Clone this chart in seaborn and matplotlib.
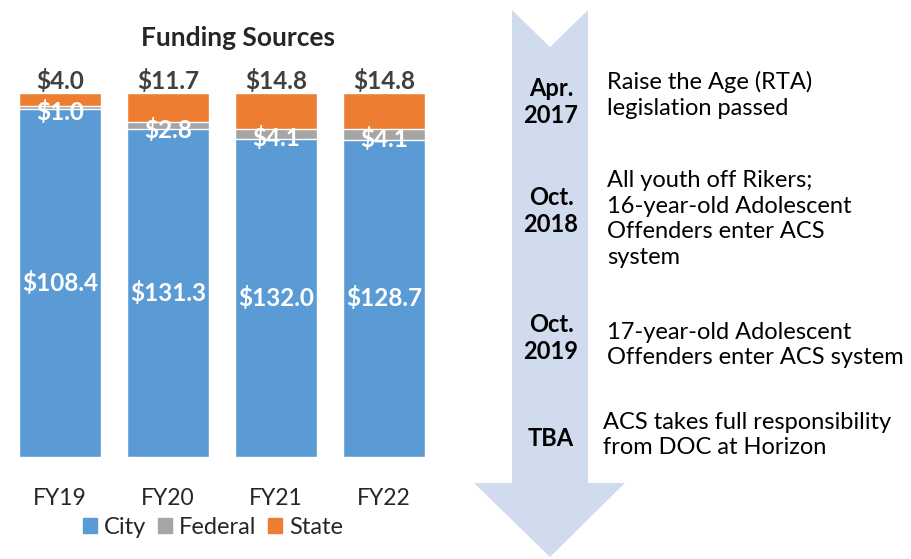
import numpy as np
import pandas as pd
import matplotlib
matplotlib.use('Agg')
import matplotlib.pyplot as plt
from matplotlib.patches import Polygon, Patch
import seaborn as sns

# data
years = ['FY19', 'FY20', 'FY21', 'FY22']
city = [108.4, 131.3, 132.0, 128.7]
federal = [1.0, 2.8, 4.1, 4.1]
state = [4.0, 11.7, 14.8, 14.8]

dates = ['Apr.\n2017', 'Oct.\n2018', 'Oct.\n2019', 'TBA']
events = ['Raise the Age (RTA)\nlegislation passed',
          'All youth off Rikers;\n16-year-old Adolescent\nOffenders enter ACS\nsystem',
          '17-year-old Adolescent\nOffenders enter ACS system',
          'ACS takes full responsibility\nfrom DOC at Horizon']

c_city, c_fed, c_state = '#5B9BD5', '#A5A5A5', '#ED7D31'

sns.set_style('white')
plt.rcParams['font.family'] = ['Lato', 'DejaVu Sans']

df = pd.DataFrame({'year': years, 'city': city, 'federal': federal, 'state': state})
df['total'] = df.city + df.federal + df.state
df['p_city'] = df.city / df.total
df['p_fed'] = (df.city + df.federal) / df.total
df['p_all'] = 1.0

fig = plt.figure(figsize=(9.11, 5.59), dpi=100)

# background overlay for the timeline arrow (pixel coords)
bg = fig.add_axes([0, 0, 1, 1])
bg.set_xlim(0, 911)
bg.set_ylim(559, 0)
bg.axis('off')
arrow = [(512, 10), (550, 47), (588, 10), (588, 483), (625, 483),
         (550, 557), (474, 483), (512, 483)]
bg.add_patch(Polygon(arrow, closed=True, facecolor='#D0DCEE', edgecolor='none'))

date_y = [102, 211, 338, 438]
event_y = [95, 219, 345, 435]
event_x = [607, 607, 607, 603]
for d, yy in zip(dates, date_y):
    bg.text(551, yy, d, ha='center', va='center', fontsize=17, fontweight='bold',
            color='black', linespacing=1.2)
for e, xx, yy in zip(events, event_x, event_y):
    bg.text(xx, yy, e, ha='left', va='center', fontsize=17, color='black',
            linespacing=1.28)

# stacked 100% bars
ax = fig.add_axes([6 / 911, 102 / 559, 432 / 911, 364 / 559])
sns.barplot(data=df, x='year', y='p_all', color=c_state, width=0.76, saturation=1, ax=ax)
sns.barplot(data=df, x='year', y='p_fed', color=c_fed, width=0.76, saturation=1, ax=ax)
sns.barplot(data=df, x='year', y='p_city', color=c_city, width=0.76, saturation=1, ax=ax)
ax.set_xlim(-0.5, 3.5)
ax.set_ylim(0, 1)
ax.set_xlabel('')
ax.set_ylabel('')
ax.set_yticks([])
sns.despine(ax=ax, left=True, bottom=True)
ax.tick_params(axis='x', length=0, labelsize=16.5, pad=22)

for i, r in df.iterrows():
    ax.text(i, r.p_city / 2, f'${r.city:.1f}', ha='center', va='center',
            color='white', fontsize=17.5, fontweight='bold')
    ax.text(i, (r.p_city + r.p_fed) / 2 - 0.012, f'${r.federal:.1f}', ha='center',
            va='center', color='white', fontsize=17.5, fontweight='bold')
    ax.text(i, 1.0, f'${r.state:.1f}', ha='center', va='bottom',
            color='#404040', fontsize=17.5, fontweight='bold')

fig.text(238 / 911, 1 - 38 / 559, 'Funding Sources', ha='center', va='center',
         fontsize=19, fontweight='bold')

handles = [Patch(color=c_city, label='City'), Patch(color=c_fed, label='Federal'),
           Patch(color=c_state, label='State')]
fig.legend(handles=handles, loc='center', bbox_to_anchor=(213 / 911, 1 - 527 / 559),
           ncol=3, frameon=False, fontsize=17, handlelength=0.6, handleheight=0.6,
           handletextpad=0.3, columnspacing=0.5)

fig.savefig('out.png', dpi=100)
